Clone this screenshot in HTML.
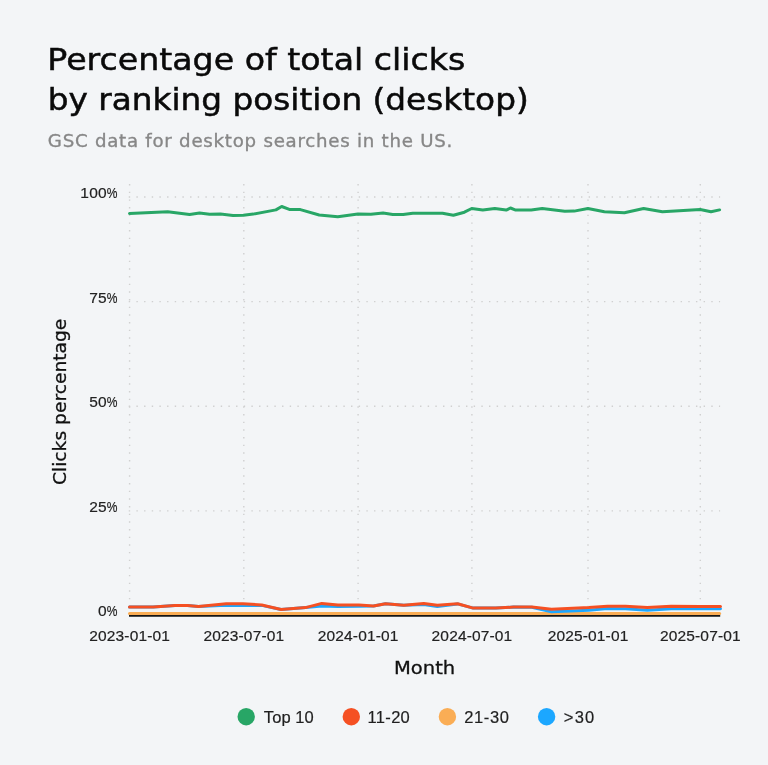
<!DOCTYPE html>
<html lang="en">
<head>
<meta charset="utf-8">
<title>Percentage of total clicks by ranking position (desktop)</title>
<style>
html,body{margin:0;padding:0;background:#F3F5F7;}
body{width:768px;height:765px;overflow:hidden;font-family:"Liberation Sans",sans-serif;}
svg{display:block}
.title{font-family:"DejaVu Sans","Liberation Sans",sans-serif;font-size:30.3px;fill:#0a0a0a;stroke:#0a0a0a;stroke-width:0.5px;}
.sub{font-family:"DejaVu Sans","Liberation Sans",sans-serif;font-size:18.2px;fill:#878787;stroke:#878787;stroke-width:0.35px;}
.tick{font-family:"Liberation Sans",sans-serif;font-size:15.5px;fill:#222;stroke:#222;stroke-width:0.2px;}
.axt{font-family:"DejaVu Sans","Liberation Sans",sans-serif;font-size:18px;fill:#111;stroke:#111;stroke-width:0.3px;}
.leg{font-family:"Liberation Sans",sans-serif;font-size:16.5px;fill:#1f1f1f;stroke:#1f1f1f;stroke-width:0.2px;}
.grid line{stroke:#d0d0d0;stroke-width:1.4;stroke-dasharray:1.4 6.265;fill:none;}
.series polyline{fill:none;stroke-width:3;stroke-linejoin:round;stroke-linecap:round;}
</style>
</head>
<body>
<svg width="768" height="765" viewBox="0 0 768 765">
<rect x="0" y="0" width="768" height="765" fill="#F3F5F7"/>
<text class="title" x="47.3" y="69.6" textLength="418" lengthAdjust="spacingAndGlyphs">Percentage of total clicks</text>
<text class="title" x="47.7" y="110" textLength="481" lengthAdjust="spacingAndGlyphs">by ranking position (desktop)</text>
<text class="sub" x="47.8" y="146.6" textLength="404.5" lengthAdjust="spacing">GSC data for desktop searches in the US.</text>
<g class="grid">
<line x1="128.75" y1="197.0" x2="720.1" y2="197.0"/>
<line x1="128.75" y1="301.6" x2="720.1" y2="301.6"/>
<line x1="128.75" y1="406.2" x2="720.1" y2="406.2"/>
<line x1="128.75" y1="510.9" x2="720.1" y2="510.9"/>
<line x1="129.6" y1="184.05" x2="129.6" y2="615.5"/>
<line x1="243.8" y1="184.05" x2="243.8" y2="615.5"/>
<line x1="358.1" y1="184.05" x2="358.1" y2="615.5"/>
<line x1="471.9" y1="184.05" x2="471.9" y2="615.5"/>
<line x1="588.0" y1="184.05" x2="588.0" y2="615.5"/>
<line x1="700.3" y1="184.05" x2="700.3" y2="615.5"/>
</g>
<line x1="129.0" y1="615.7" x2="720.2" y2="615.7" stroke="#151515" stroke-width="2.2"/>
<g class="series">
<polyline stroke="#28A666" points="129.5,213.5 167.7,211.7 189.6,214.4 199.5,213.0 209.6,214.3 220.5,214.1 233.0,215.4 243.4,215.3 253.3,214.1 275.9,209.9 281.7,206.5 290.0,209.6 300.4,209.6 319.2,215.0 337.8,216.8 357.9,214.1 370.9,214.3 383.1,213.0 392.8,214.4 403.2,214.4 412.8,213.2 442.5,213.2 453.4,215.3 464.4,212.2 471.7,208.5 482.8,210.1 494.8,208.5 506.2,210.1 510.4,208.0 515.1,209.9 531.2,209.9 542.2,208.5 564.8,211.3 574.2,211.1 587.9,208.5 604.4,211.7 624.4,212.7 643.6,208.5 662.4,211.7 700.2,209.5 711.0,211.8 719.6,209.9"/>
<polyline stroke="#FAAD55" points="129.5,613.4 719.6,613.4"/>
<polyline stroke="#1CA7FF" points="129.5,607.1 153.1,607.1 175.0,605.5 187.5,605.5 198.5,606.5 226.2,605.2 242.9,605.5 261.7,605.4 281.1,609.5 305.6,607.6 321.8,605.9 337.9,606.4 359.0,606.3 373.5,606.0 385.5,603.7 403.8,605.3 423.8,604.4 437.3,606.5 457.6,603.9 473.2,608.1 495.8,608.1 513.5,607.1 531.8,607.3 551.5,611.7 588.8,610.2 607.5,608.6 625.4,608.8 647.3,610.2 671.2,608.8 700.0,608.7 720.5,608.8"/>
<polyline stroke="#F55023" points="129.5,607.1 153.1,607.1 175.0,605.5 187.5,605.5 198.5,606.5 226.2,603.7 242.9,603.7 261.7,605.0 281.1,609.5 305.6,607.6 321.8,603.4 337.9,605.0 359.0,605.0 373.5,606.0 385.5,603.7 403.8,605.3 423.8,603.4 437.3,605.3 457.6,603.7 473.2,608.1 495.8,608.1 513.5,607.1 531.8,607.1 551.5,609.3 588.8,607.6 607.5,606.2 625.4,606.3 647.3,607.6 671.2,606.3 700.0,606.4 720.5,606.5"/>
</g>
<text class="tick" y="197.9"><tspan x="106.8" text-anchor="end" letter-spacing="0.2">100</tspan><tspan x="106.7" text-anchor="start" textLength="10.7" lengthAdjust="spacingAndGlyphs">%</tspan></text>
<text class="tick" y="302.5"><tspan x="106.8" text-anchor="end" letter-spacing="0.2">75</tspan><tspan x="106.7" text-anchor="start" textLength="10.7" lengthAdjust="spacingAndGlyphs">%</tspan></text>
<text class="tick" y="407.1"><tspan x="106.8" text-anchor="end" letter-spacing="0.2">50</tspan><tspan x="106.7" text-anchor="start" textLength="10.7" lengthAdjust="spacingAndGlyphs">%</tspan></text>
<text class="tick" y="511.8"><tspan x="106.8" text-anchor="end" letter-spacing="0.2">25</tspan><tspan x="106.7" text-anchor="start" textLength="10.7" lengthAdjust="spacingAndGlyphs">%</tspan></text>
<text class="tick" y="616.4"><tspan x="106.8" text-anchor="end" letter-spacing="0.2">0</tspan><tspan x="106.7" text-anchor="start" textLength="10.7" lengthAdjust="spacingAndGlyphs">%</tspan></text>
<text class="tick" x="129.6" y="640.8" text-anchor="middle" textLength="80.6" lengthAdjust="spacing">2023-01-01</text>
<text class="tick" x="243.8" y="640.8" text-anchor="middle" textLength="80.6" lengthAdjust="spacing">2023-07-01</text>
<text class="tick" x="358.1" y="640.8" text-anchor="middle" textLength="80.6" lengthAdjust="spacing">2024-01-01</text>
<text class="tick" x="471.9" y="640.8" text-anchor="middle" textLength="80.6" lengthAdjust="spacing">2024-07-01</text>
<text class="tick" x="588.0" y="640.8" text-anchor="middle" textLength="80.6" lengthAdjust="spacing">2025-01-01</text>
<text class="tick" x="700.3" y="640.8" text-anchor="middle" textLength="80.6" lengthAdjust="spacing">2025-07-01</text>
<text class="axt" x="424.6" y="673.9" text-anchor="middle" textLength="61.2" lengthAdjust="spacingAndGlyphs">Month</text>
<text class="axt" transform="translate(65.7,401.9) rotate(-90)" text-anchor="middle" textLength="166.4" lengthAdjust="spacingAndGlyphs">Clicks percentage</text>
<circle cx="246.2" cy="716.7" r="8.7" fill="#28A666"/>
<text class="leg" x="263.8" y="722.9" textLength="50" lengthAdjust="spacing">Top 10</text>
<circle cx="351.3" cy="716.7" r="8.7" fill="#F55023"/>
<text class="leg" x="367.6" y="722.9" textLength="42.2" lengthAdjust="spacing">11-20</text>
<circle cx="447.4" cy="716.7" r="8.7" fill="#FAAD55"/>
<text class="leg" x="464.2" y="722.9" textLength="44.7" lengthAdjust="spacing">21-30</text>
<circle cx="546.6" cy="716.7" r="8.7" fill="#1CA7FF"/>
<text class="leg" x="563.8" y="722.9" textLength="30.4" lengthAdjust="spacing">&gt;30</text>
</svg>
</body>
</html>
